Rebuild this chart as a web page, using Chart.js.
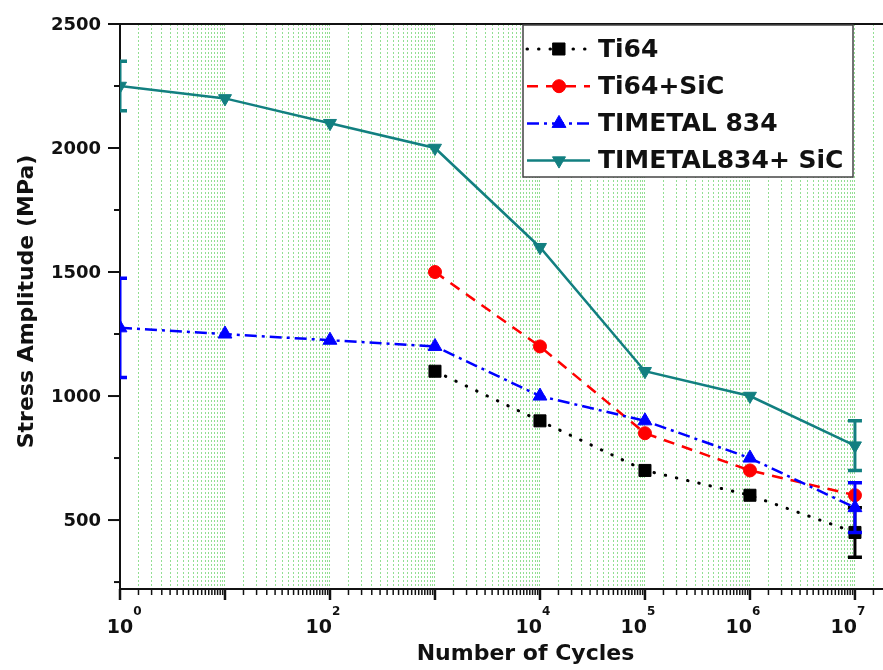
<!DOCTYPE html>
<html>
<head>
<meta charset="utf-8">
<script src="https://cdn.jsdelivr.net/npm/chart.js@4.4.0/dist/chart.umd.min.js"></script>
<style>
html, body { margin: 0; padding: 0; background: #fff; }
canvas { display: block; }
</style>
</head>
<body>
<canvas id="canva1" width="883" height="670"></canvas>
<script>
// values
const cycles = [1, 10, 100, 1000, 10000, 100000, 1000000, 10000000];
const ti64 = [null, null, null, 1100, 900, 700, 600, 450];
const ti64SiC = [null, null, null, 1500, 1200, 850, 700, 600];
const timetal834 = [1275, 1250, 1225, 1200, 1000, 900, 750, 550];
const timetal834SiC = [2250, 2200, 2100, 2000, 1600, 1100, 1000, 800];
const ti64Err = [null, null, null, null, null, null, null, 100];
const timetal834Err = [200, null, null, null, null, null, null, 100];
const timetal834SiCErr = [100, null, null, null, null, null, null, 100];
const seriesNames = ["Ti64", "Ti64+SiC", "TIMETAL 834", "TIMETAL834+ SiC"];
const xLabelExponents = [0, 2, 4, 5, 6, 7];
const yTickValues = [250, 500, 750, 1000, 1250, 1500, 1750, 2000, 2250, 2500];
const yLabelValues = [500, 1000, 1500, 2000, 2500];
const xTitle = "Number of Cycles";
const yTitle = "Stress Amplitude (MPa)";

const FONT = '"DejaVu Sans", "Liberation Sans", sans-serif';

function points(values) {
    return cycles.map((c, i) => ({x: c, y: values[i]})).filter(p => p.y !== null);
}
function errorBars(values, errs) {
    return cycles.map((c, i) => ({x: c, y: values[i], e: errs[i]})).filter(p => p.e);
}

let errorBarPlugin = {
    id: "errorBars",
    afterDatasetDraw: function(chart, args) {
        let ds = chart.data.datasets[args.index];
        if (!ds.errorBars) return;
        let ctx = chart.ctx, xs = chart.scales.x, ys = chart.scales.y, a = chart.chartArea;
        ctx.save();
        ctx.beginPath();
        ctx.rect(a.left, a.top, a.right - a.left, a.bottom - a.top);
        ctx.clip();
        ctx.strokeStyle = ds.borderColor;
        ctx.setLineDash([]);
        ds.errorBars.forEach(function(e) {
            let x = xs.getPixelForValue(e.x);
            let y1 = ys.getPixelForValue(e.y - e.e);
            let y2 = ys.getPixelForValue(e.y + e.e);
            ctx.lineWidth = 3;
            ctx.beginPath(); ctx.moveTo(x, y1); ctx.lineTo(x, y2); ctx.stroke();
            ctx.lineWidth = 3.5;
            ctx.beginPath();
            ctx.moveTo(x - 7, y1); ctx.lineTo(x + 7, y1);
            ctx.moveTo(x - 7, y2); ctx.lineTo(x + 7, y2);
            ctx.stroke();
        });
        ctx.restore();
    }
};

let decoPlugin = {
    id: "deco",
    afterDraw: function(chart) {
        let ctx = chart.ctx, a = chart.chartArea, xs = chart.scales.x, ys = chart.scales.y;
        ctx.save();
        ctx.setLineDash([]);
        ctx.strokeStyle = "#111";
        // top frame line
        ctx.lineWidth = 2;
        ctx.beginPath(); ctx.moveTo(a.left, a.top); ctx.lineTo(a.right, a.top); ctx.stroke();
        // x tick marks
        xs.ticks.forEach(function(t) {
            let x = xs.getPixelForValue(t.value);
            let e = Math.log10(t.value);
            let major = Math.abs(e - Math.round(e)) < 1e-9;
            ctx.lineWidth = major ? 2.5 : 1.5;
            ctx.beginPath(); ctx.moveTo(x, a.bottom); ctx.lineTo(x, a.bottom + (major ? 11 : 6)); ctx.stroke();
        });
        // y tick marks and labels
        ctx.fillStyle = "#111";
        ctx.font = "bold 18px " + FONT;
        ctx.textAlign = "right"; ctx.textBaseline = "middle";
        ys.ticks.forEach(function(t) {
            let y = ys.getPixelForValue(t.value);
            let major = yLabelValues.includes(t.value);
            ctx.lineWidth = 2;
            ctx.beginPath(); ctx.moveTo(a.left, y); ctx.lineTo(a.left - (major ? 12 : 6), y); ctx.stroke();
            if (major) ctx.fillText(String(t.value), a.left - 19, y + 1);
        });
        // x tick labels 10^n
        xLabelExponents.forEach(function(p, i) {
            let x = xs.getPixelForValue(Math.pow(10, p));
            ctx.font = "bold 19px " + FONT;
            let w = ctx.measureText("10").width;
            let right = i === 0 ? x + w / 2 : x + 2;
            ctx.textAlign = "right"; ctx.textBaseline = "alphabetic";
            ctx.fillText("10", right, a.bottom + 44);
            ctx.font = "bold 12px " + FONT;
            ctx.textAlign = "left";
            ctx.fillText(String(p), right, a.bottom + 26);
        });
        // axis titles
        ctx.font = "bold 22px " + FONT;
        ctx.textAlign = "center"; ctx.textBaseline = "middle";
        ctx.fillText(xTitle, (a.left + a.right) / 2 + 24, a.bottom + 65);
        ctx.translate(27, (a.top + a.bottom) / 2 - 5);
        ctx.rotate(-Math.PI / 2);
        ctx.fillText(yTitle, 0, 0);
        ctx.restore();

        // legend box
        ctx.save();
        let left = a.right - 360, top = a.top + 1, w = 330, h = 152;
        ctx.fillStyle = "#fff";
        ctx.fillRect(left, top, w, h);
        ctx.strokeStyle = "#444";
        ctx.lineWidth = 1.5;
        ctx.strokeRect(left, top, w, h);
        chart.data.datasets.forEach(function(ds, i) {
            let y = top + 24 + i * 37.2;
            ctx.save();
            ctx.strokeStyle = ds.borderColor;
            ctx.lineWidth = ds.borderWidth;
            ctx.lineCap = ds.borderCapStyle || "butt";
            ctx.setLineDash(ds.borderDash || []);
            ctx.beginPath(); ctx.moveTo(left + 4, y); ctx.lineTo(left + 67, y); ctx.stroke();
            ctx.setLineDash([]);
            ctx.fillStyle = ds.pointBackgroundColor;
            ctx.strokeStyle = ds.pointBorderColor;
            ctx.lineWidth = ds.pointBorderWidth;
            Chart.helpers.drawPoint(ctx, {
                pointStyle: ds.pointStyle,
                rotation: ds.pointRotation || 0,
                radius: ds.pointRadius,
                borderWidth: ds.pointBorderWidth
            }, left + 36, y);
            ctx.restore();
            ctx.fillStyle = "#111";
            ctx.font = "bold 25px " + FONT;
            ctx.textAlign = "left"; ctx.textBaseline = "middle";
            ctx.fillText(ds.label, left + 75, y + 1);
        });
        ctx.restore();
    }
};

window.onload = function() {
    let canva1 = document.getElementById("canva1").getContext("2d");
    let grafico = new Chart(canva1, {
        type: "line",
        data: {
            datasets: [{
                label: seriesNames[0],
                data: points(ti64),
                errorBars: errorBars(ti64, ti64Err),
                borderColor: "#000000",
                borderWidth: 3,
                borderDash: [0.5, 11],
                borderCapStyle: "round",
                pointStyle: "rect",
                pointRadius: 8.5,
                pointBorderWidth: 1,
                pointBackgroundColor: "#000000",
                pointBorderColor: "#000000",
                clip: 0,
                order: 4
            }, {
                label: seriesNames[1],
                data: points(ti64SiC),
                borderColor: "#ff0000",
                borderWidth: 2.5,
                borderDash: [11, 8],
                pointStyle: "circle",
                pointRadius: 6.5,
                pointBorderWidth: 1,
                pointBackgroundColor: "#ff0000",
                pointBorderColor: "#ff0000",
                clip: 0,
                order: 3
            }, {
                label: seriesNames[2],
                data: points(timetal834),
                errorBars: errorBars(timetal834, timetal834Err),
                borderColor: "#0000ff",
                borderWidth: 2.5,
                borderDash: [12, 5, 3, 5],
                pointStyle: "triangle",
                pointRadius: 8,
                pointBorderWidth: 1,
                pointBackgroundColor: "#0000ff",
                pointBorderColor: "#0000ff",
                clip: 0,
                order: 2
            }, {
                label: seriesNames[3],
                data: points(timetal834SiC),
                errorBars: errorBars(timetal834SiC, timetal834SiCErr),
                borderColor: "#127f80",
                borderWidth: 2.5,
                borderDash: [],
                pointStyle: "triangle",
                pointRotation: 180,
                pointRadius: 7.5,
                pointBorderWidth: 1,
                pointBackgroundColor: "#127f80",
                pointBorderColor: "#127f80",
                clip: 0,
                order: 1
            }]
        },
        options: {
            responsive: false,
            animation: false,
            devicePixelRatio: 1,
            events: [],
            layout: { autoPadding: false, padding: { top: 24, right: 0, bottom: 0, left: 0 } },
            plugins: { legend: { display: false }, tooltip: { enabled: false } },
            scales: {
                x: {
                    type: "logarithmic",
                    min: 1,
                    max: 18500000,
                    bounds: "data",
                    afterBuildTicks: function(scale) {
                        let t = [];
                        for (let k = 0; k <= 7; k++) {
                            for (let m = 1; m < 10; m += 0.5) {
                                let v = m * Math.pow(10, k);
                                if (v <= scale.max) t.push({value: v});
                            }
                        }
                        scale.ticks = t;
                    },
                    afterFit: function(scale) { scale.height = 81; },
                    ticks: { display: false, autoSkip: false },
                    grid: { display: true, drawTicks: false, color: "rgba(100,210,100,0.7)", lineWidth: 1 },
                    border: { display: true, color: "#111", width: 2, dash: [2, 2] }
                },
                y: {
                    type: "linear",
                    min: 222,
                    max: 2500,
                    bounds: "data",
                    afterBuildTicks: function(scale) {
                        scale.ticks = yTickValues.map(v => ({value: v}));
                    },
                    afterFit: function(scale) { scale.width = 120; },
                    grid: { display: false, drawTicks: false },
                    border: { display: true, color: "#111", width: 2 },
                    ticks: { display: false, autoSkip: false }
                }
            }
        },
        plugins: [errorBarPlugin, decoPlugin]
    });
    // nudge the plot area onto the reference frame (top 24, right 883)
    let dTop = grafico.chartArea.top - 24;
    let dRight = 883 - grafico.chartArea.right;
    if (dTop !== 0 || dRight !== 0) {
        grafico.options.layout.padding.top -= dTop;
        grafico.options.layout.padding.right -= dRight;
        grafico.update();
    }
};
</script>
</body>
</html>
